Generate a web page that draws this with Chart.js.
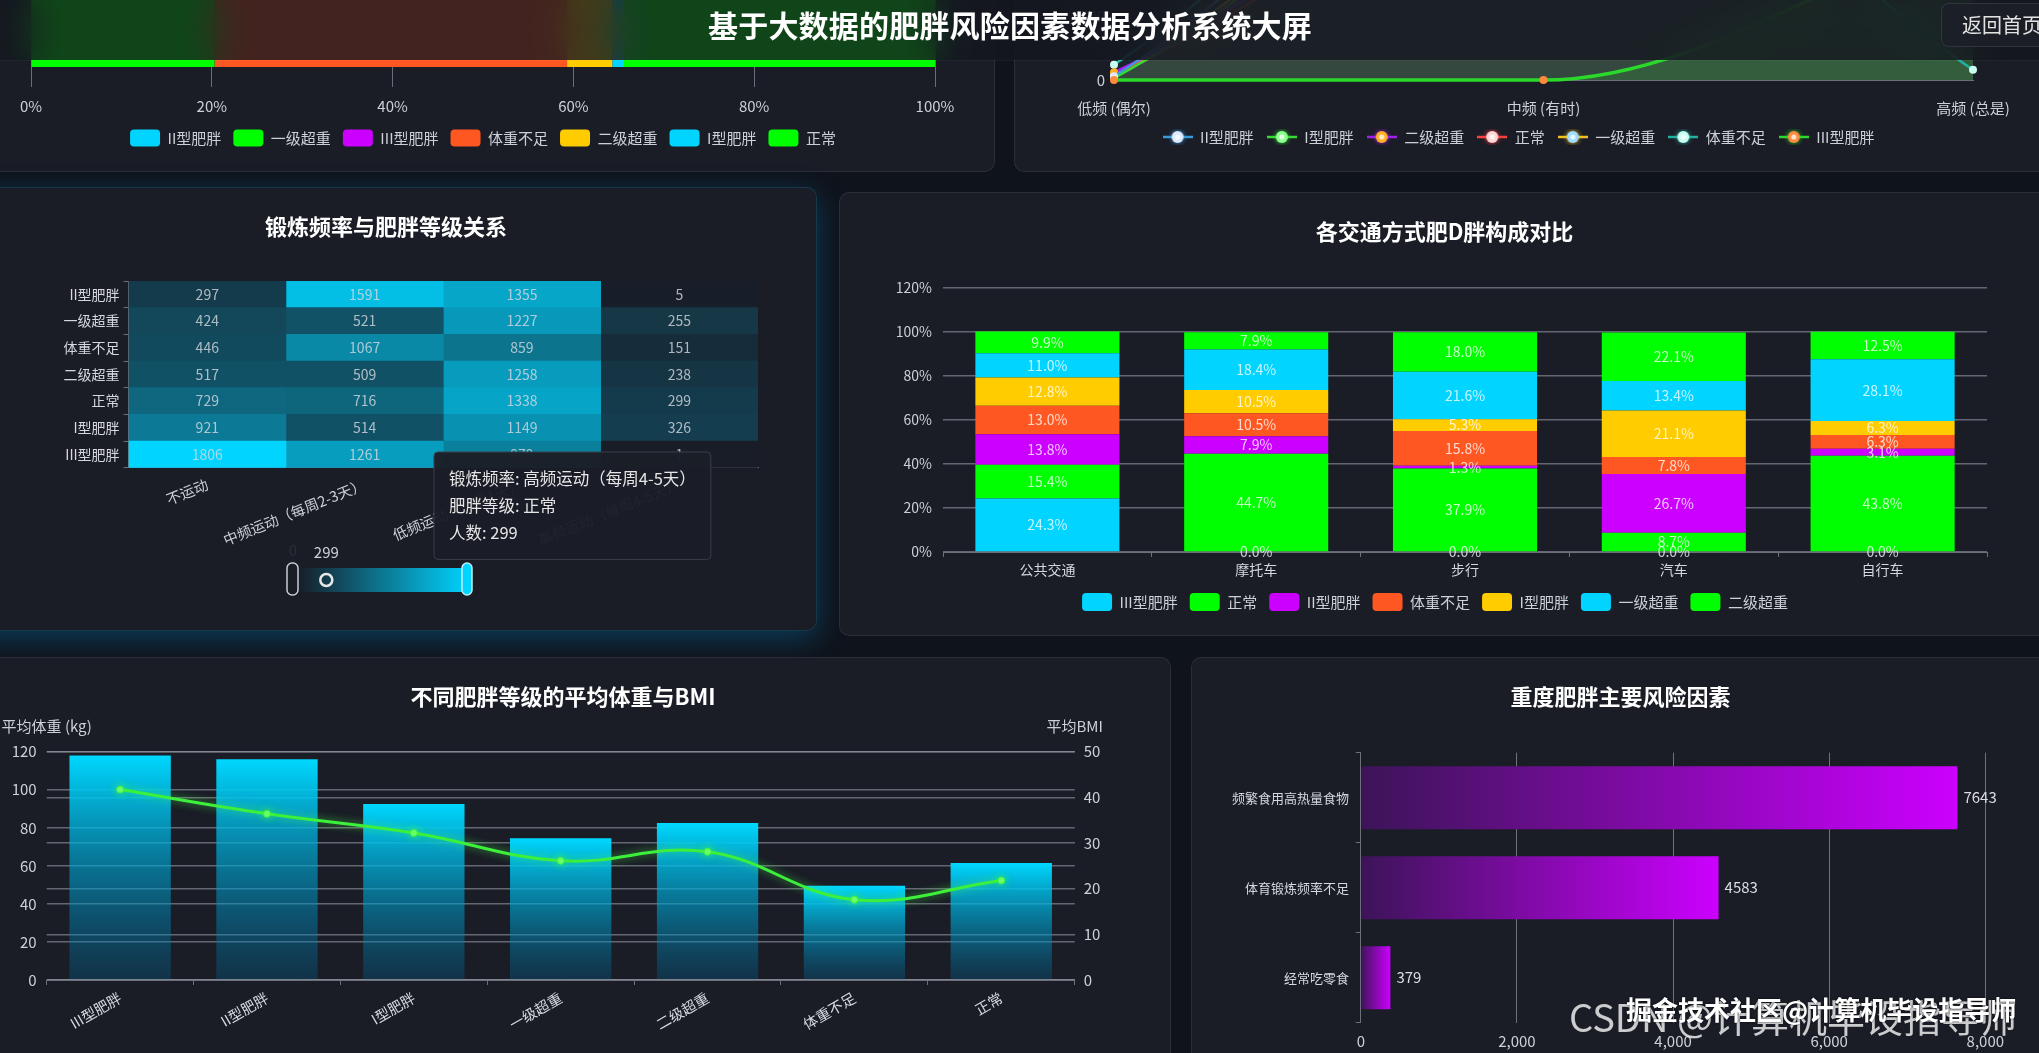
<!DOCTYPE html>
<html lang="zh-CN">
<head>
<meta charset="utf-8">
<title>基于大数据的肥胖风险因素数据分析系统大屏</title>
<script src="https://cdn.jsdelivr.net/npm/chart.js@4.4.1/dist/chart.umd.min.js"></script>
<style>
  html, body { margin: 0; padding: 0; width: 2039px; height: 1053px; overflow: hidden; background: #0f131b;
    font-family: "Noto Sans CJK SC", "Noto Sans", sans-serif; }
  .panel { position: absolute; background: #1a1c26; border-radius: 10px; overflow: hidden;
    box-shadow: inset 0 0 0 1px rgba(255,255,255,0.08); }
  .panel.hot { box-shadow: inset 0 0 0 1px rgba(0,212,255,0.16), 0 8px 30px rgba(0,170,255,0.28); }
  .box { position: absolute; left: 0; top: 0; }
  .title { position: absolute; left: 0; right: 0; top: 25px; text-align: center; color: #fff;
    font-size: 22px; line-height: 26px; font-weight: 700; }
  #header { position: absolute; left: 0; top: 0; width: 2039px; height: 60px; z-index: 10;
    background: rgba(20,23,31,0.8); backdrop-filter: blur(18px); -webkit-backdrop-filter: blur(18px);
    box-shadow: 0 1px 0 rgba(255,255,255,0.04); }
  #header h1 { margin: 0; position: absolute; left: 0; width: 2020px; top: 6px; text-align: center;
    font-size: 30px; line-height: 36px; font-weight: 700; color: #fff; letter-spacing: 0.2px; }
  #back { position: absolute; left: 1941px; top: 3px; width: 130px; height: 44px; box-sizing: border-box;
    padding-left: 21px; border-radius: 8px; background: rgba(28,31,40,0.92);
    box-shadow: inset 0 0 0 1px rgba(255,255,255,0.1); color: #e2e2e2; font-size: 20px; line-height: 44px; }
  .wm { position: absolute; white-space: nowrap; z-index: 20; }
  #wm1 { left: 1569px; top: 993px; font-size: 38px; line-height: 46px; color: rgba(235,235,235,0.85); font-weight: 400; }
  #wm2 { left: 1626px; top: 994px; font-size: 26px; line-height: 30px; color: #fff; font-weight: 700;
    text-shadow: 0 0 2px rgba(0,0,0,0.8); }
</style>
</head>
<body>

<div class="panel" style="left:-45px;top:-60px;width:1040px;height:232px">
  <div class="box" style="width:1040px;height:232px"><canvas id="c1"></canvas></div>
</div>
<div class="panel" style="left:1014px;top:-300px;width:1036px;height:472px">
  <div class="box" style="width:1036px;height:472px"><canvas id="c2"></canvas></div>
</div>
<div class="panel hot" style="left:-45px;top:187px;width:862px;height:444px">
  <div class="title">锻炼频率与肥胖等级关系</div>
  <div class="box" style="width:862px;height:444px"><canvas id="c3"></canvas></div>
</div>
<div class="panel" style="left:839px;top:192px;width:1211px;height:444px">
  <div class="title">各交通方式肥D胖构成对比</div>
  <div class="box" style="width:1211px;height:444px"><canvas id="c4"></canvas></div>
</div>
<div class="panel" style="left:-45px;top:657px;width:1216px;height:420px">
  <div class="title">不同肥胖等级的平均体重与BMI</div>
  <div class="box" style="width:1216px;height:396px"><canvas id="c5"></canvas></div>
</div>
<div class="panel" style="left:1191px;top:657px;width:859px;height:420px">
  <div class="title">重度肥胖主要风险因素</div>
  <div class="box" style="width:859px;height:396px"><canvas id="c6"></canvas></div>
</div>

<div id="header">
  <h1>基于大数据的肥胖风险因素数据分析系统大屏</h1>
  <div id="back">返回首页</div>
</div>

<div class="wm" id="wm1">CSDN @计算机毕设指导师</div>
<div class="wm" id="wm2">掘金技术社区@计算机毕设指导师</div>

<script>
// ---- 数据 ----
// 顶部左:肥胖等级构成(只露出最后一行)
const TOP_ROW = ['总体'];
const TOP_LEVELS = ['II型肥胖', '一级超重', 'III型肥胖', '体重不足', '二级超重', 'I型肥胖', '正常'];
const TOP_SHARE = [0, 20.3, 0, 39.0, 5.0, 1.3, 34.4];
const TOP_COLORS = ['#00d4ff', '#00ff00', '#cc00ff', '#ff5722', '#ffcc00', '#00d4ff', '#00ff00'];

// 顶部右:高热量食物频率 × 肥胖等级(大部分被顶栏遮住)
const FREQ_LABELS = ['低频 (偶尔)', '中频 (有时)', '高频 (总是)'];
const LINE_NAMES = ['II型肥胖', 'I型肥胖', '二级超重', '正常', '一级超重', '体重不足', 'III型肥胖'];
const LINE_VALUES = [
  [30, 2100, 1700],
  [15, 1800, 1500],
  [60, 1600, 1300],
  [40, 1500, 1200],
  [20, 1900, 1600],
  [120, 2300, 80],
  [0, 0, 1180],
];
const LINE_COLORS = ['#3a9ad9', '#33dd33', '#a020f0', '#ff4040', '#f0c020', '#20b2a0', '#2bd92b'];
const POINT_COLORS = ['#dfe9ff', '#8dff8d', '#ffb020', '#ffd6d6', '#9fdcff', '#c8fff0', '#ff8a3d'];

// 中左:锻炼频率与肥胖等级(热力图)
const HEAT_ROWS = ['II型肥胖', '一级超重', '体重不足', '二级超重', '正常', 'I型肥胖', 'III型肥胖'];
const HEAT_COLS = ['不运动', '中频运动（每周2-3天）', '低频运动（每周1天）', '高频运动（每周4-5天）'];
const HEAT_VALUES = [
  [297, 1591, 1355, 5],
  [424, 521, 1227, 255],
  [446, 1067, 859, 151],
  [517, 509, 1258, 238],
  [729, 716, 1338, 299],
  [921, 514, 1149, 326],
  [1806, 1261, 979, 1],
];
const HEAT_HOVER = { row: 4, col: 3 };

// 中右:各交通方式肥胖构成(%)
const MODES = ['公共交通', '摩托车', '步行', '汽车', '自行车'];
const MODE_LEVELS = ['III型肥胖', '正常', 'II型肥胖', '体重不足', 'I型肥胖', '一级超重', '二级超重'];
const MODE_COLORS = ['#00d4ff', '#00ff00', '#cc00ff', '#ff5722', '#ffcc00', '#00d4ff', '#00ff00'];
const MODE_SHARE = [
  [24.3, 0.0, 0.0, 0.0, 0.0],
  [15.4, 44.7, 37.9, 8.7, 43.8],
  [13.8, 7.9, 1.3, 26.7, 3.1],
  [13.0, 10.5, 15.8, 7.8, 6.3],
  [12.8, 10.5, 5.3, 21.1, 6.3],
  [11.0, 18.4, 21.6, 13.4, 28.1],
  [9.9, 7.9, 18.0, 22.1, 12.5],
];

// 下左:平均体重与BMI
const GRADES = ['III型肥胖', 'II型肥胖', 'I型肥胖', '一级超重', '二级超重', '体重不足', '正常'];
const AVG_WEIGHT = [118, 116, 92.5, 74.5, 82.5, 49.5, 61.5];
const AVG_BMI = [41.7, 36.4, 32.2, 26.1, 28.1, 17.6, 21.8];

// 下右:重度肥胖风险因素
const RISK_FACTORS = ['频繁食用高热量食物', '体育锻炼频率不足', '经常吃零食'];
const RISK_COUNTS = [7643, 4583, 379];

// ---- 公共设置 ----
const FONT = '"Noto Sans CJK SC", "Noto Sans", sans-serif';
Chart.defaults.font.family = FONT;
Chart.defaults.font.size = 15;
Chart.defaults.color = '#cdd0d6';
Chart.defaults.animation = false;
Chart.defaults.maintainAspectRatio = false;
Chart.defaults.devicePixelRatio = 1;
Chart.defaults.events = [];
Chart.defaults.plugins.legend.display = false;
Chart.defaults.plugins.tooltip.enabled = false;

const GRID = 'rgba(150,154,166,0.6)';
const AXIS = '#6e7079';
const fixW = w => s => { s.width = w; };
const fixH = h => s => { s.height = h; };

function rgba(hex, a) {
  const n = parseInt(hex.slice(1), 16);
  return `rgba(${n >> 16},${(n >> 8) & 255},${n & 255},${a})`;
}

// ---- 1 顶部左 ----
new Chart(document.getElementById('c1'), {
  type: 'bar',
  data: {
    labels: TOP_ROW,
    datasets: TOP_LEVELS.map((name, i) => ({
      label: name,
      data: [TOP_SHARE[i]],
      backgroundColor: TOP_COLORS[i],
      borderWidth: 0,
      barPercentage: 0.728,
      categoryPercentage: 1,
    })),
  },
  options: {
    indexAxis: 'y',
    layout: { padding: { left: 76, right: 60, top: 0, bottom: 15.5 } },
    scales: {
      x: {
        stacked: true, min: 0, max: 100,
        ticks: { stepSize: 20, callback: v => v + '%', padding: 10 },
        grid: { color: '#6a6d78', drawTicks: false },
        border: { display: false },
        afterFit: fixH(30.5),
      },
      y: { stacked: true, display: false },
    },
    plugins: {
      legend: {
        display: true, position: 'bottom',
        labels: { boxWidth: 30, boxHeight: 17, useBorderRadius: true, borderRadius: 4, padding: 12 },
      },
    },
  },
});

// ---- 2 顶部右 ----
function legendIcon(line, dot) {
  const c = document.createElement('canvas');
  c.width = 30; c.height = 16;
  const g = c.getContext('2d');
  g.strokeStyle = line; g.lineWidth = 2.5;
  g.beginPath(); g.moveTo(0, 8); g.lineTo(30, 8); g.stroke();
  g.shadowColor = line; g.shadowBlur = 5;
  g.fillStyle = dot;
  g.beginPath(); g.arc(15, 8, 6, 0, Math.PI * 2); g.fill();
  g.shadowBlur = 0;
  g.fillStyle = 'rgba(255,255,255,0.75)';
  g.beginPath(); g.arc(15, 8, 2.6, 0, Math.PI * 2); g.fill();
  return c;
}
const LINE_ICONS = LINE_NAMES.map((_, i) => legendIcon(LINE_COLORS[i], POINT_COLORS[i]));

new Chart(document.getElementById('c2'), {
  type: 'line',
  data: {
    labels: FREQ_LABELS,
    datasets: LINE_NAMES.map((name, i) => ({
      label: name,
      data: LINE_VALUES[i],
      borderColor: LINE_COLORS[i],
      borderWidth: i === 6 ? 3.5 : 2.5,
      backgroundColor: rgba(LINE_COLORS[i], i === 1 || i === 6 ? 0.14 : 0.06),
      fill: 'origin',
      cubicInterpolationMode: 'monotone',
      pointRadius: 4,
      pointBorderWidth: 0,
      pointBackgroundColor: POINT_COLORS[i],
      order: i === 6 ? -1 : i,
      clip: false,
    })),
  },
  options: {
    layout: { padding: { left: 50, right: 77, top: 60, bottom: 17.5 } },
    scales: {
      x: {
        grid: { display: false },
        border: { color: AXIS },
        ticks: { padding: 11 },
        afterFit: fixH(36.5),
      },
      y: {
        min: 0, max: 2500,
        ticks: { stepSize: 500, padding: 9 },
        grid: { color: 'rgba(120,125,135,0.25)', drawTicks: false },
        border: { display: false },
        afterFit: fixW(50),
      },
    },
    plugins: {
      filler: { drawTime: 'beforeDatasetsDraw' },
      legend: {
        display: true, position: 'bottom',
        labels: {
          usePointStyle: true, pointStyleWidth: 30, boxHeight: 15, padding: 13,
          generateLabels: chart => chart.data.datasets.map((ds, i) => ({
            text: ds.label, pointStyle: LINE_ICONS[i], fontColor: '#cdd0d6',
            fillStyle: 'transparent', strokeStyle: 'transparent', lineWidth: 0,
            hidden: false, datasetIndex: i,
          })),
        },
      },
    },
  },
});

// ---- 3 热力图 ----
const HEAT_MAX = Math.max(...HEAT_VALUES.flat());
function heatColor(v) {
  const t = v / HEAT_MAX;
  const a = [24, 29, 40], b = [0, 212, 255];
  return `rgb(${a.map((c, k) => Math.round(c + (b[k] - c) * t)).join(',')})`;
}

const heatLabels = {
  id: 'heatLabels',
  afterDatasetsDraw(chart) {
    const ctx = chart.ctx;
    ctx.save();
    ctx.font = '14px ' + FONT;
    ctx.textAlign = 'center';
    ctx.textBaseline = 'middle';
    ctx.fillStyle = 'rgba(215,218,224,0.8)';
    chart.data.datasets.forEach((ds, j) => {
      chart.getDatasetMeta(j).data.forEach((cell, i) => {
        ctx.fillText(String(HEAT_VALUES[i][j]), (cell.x + cell.base) / 2, cell.y);
      });
    });
    ctx.restore();
  },
};

// 连续型视觉映射条(ECharts visualMap 的样子)
const visualMap = {
  id: 'visualMap',
  afterDatasetsDraw(chart) {
    const ctx = chart.ctx;
    const x0 = 343, x1 = 514, y0 = 381, y1 = 405;
    ctx.save();
    const g = ctx.createLinearGradient(x0, 0, x1, 0);
    g.addColorStop(0, heatColor(0));
    g.addColorStop(1, heatColor(HEAT_MAX));
    ctx.fillStyle = g;
    ctx.fillRect(x0, y0, x1 - x0, y1 - y0);

    ctx.lineWidth = 1.5;
    ctx.beginPath(); ctx.roundRect(332, 376, 11, 32, 5);
    ctx.fillStyle = '#1a1c26'; ctx.fill();
    ctx.strokeStyle = '#c9ccd3'; ctx.stroke();
    ctx.beginPath(); ctx.roundRect(507, 376, 10, 32, 5);
    ctx.fillStyle = '#00d4ff'; ctx.fill();
    ctx.strokeStyle = '#bfefff'; ctx.stroke();

    const hv = HEAT_VALUES[HEAT_HOVER.row][HEAT_HOVER.col];
    const ix = x0 + (x1 - x0) * hv / HEAT_MAX;
    ctx.beginPath(); ctx.arc(ix, 393, 6, 0, Math.PI * 2);
    ctx.lineWidth = 2.5; ctx.strokeStyle = '#e8e8e8'; ctx.stroke();

    ctx.font = '15px ' + FONT;
    ctx.textAlign = 'center';
    ctx.textBaseline = 'middle';
    ctx.fillStyle = '#cdd0d6';
    ctx.fillText(String(hv), ix, 365);
    ctx.fillStyle = '#2c2f38';
    ctx.fillText('0', 338, 363);
    ctx.restore();
  },
};

const tooltipPlugin = Chart.Tooltip || Chart.registry.getPlugin('tooltip');
tooltipPlugin.positioners.fixedSpot = () => ({ x: 483, y: 265 });

const heat = new Chart(document.getElementById('c3'), {
  type: 'bar',
  data: {
    labels: HEAT_ROWS,
    datasets: HEAT_COLS.map((col, j) => ({
      label: col,
      data: HEAT_ROWS.map(() => [j, j + 1]),
      backgroundColor: HEAT_VALUES.map(r => heatColor(r[j])),
      borderWidth: 0,
      barPercentage: 1,
      categoryPercentage: 1,
      grouped: false,
    })),
  },
  options: {
    indexAxis: 'y',
    layout: { padding: { left: 43.6, right: 59, top: 94, bottom: 63.3 } },
    scales: {
      x: {
        min: 0, max: HEAT_COLS.length,
        afterBuildTicks: s => { s.ticks = HEAT_COLS.map((c, i) => ({ value: i + 0.5 })); },
        ticks: {
          callback: v => HEAT_COLS[Math.floor(v)],
          minRotation: 22, maxRotation: 22, autoSkip: false, padding: 0,
          font: { size: 14.5 },
        },
        grid: { display: false },
        border: { color: AXIS },
        afterFit: fixH(100),
      },
      y: {
        grid: { drawOnChartArea: false, tickLength: 5, color: AXIS },
        border: { color: AXIS },
        ticks: { padding: 4, font: { size: 14 }, color: '#d6d8de' },
        afterFit: fixW(130),
      },
    },
    plugins: {
      tooltip: {
        enabled: true,
        position: 'fixedSpot',
        xAlign: 'left', yAlign: 'top',
        caretSize: 0, caretPadding: 0, cornerRadius: 4,
        backgroundColor: 'rgba(27,30,39,0.97)',
        borderColor: '#3a3f4b', borderWidth: 1,
        padding: { top: 17, bottom: 17, left: 15, right: 15 },
        bodyFont: { size: 16.5, family: FONT },
        bodyColor: '#e6e6e6',
        bodySpacing: 7,
        displayColors: false,
        callbacks: {
          title: () => '',
          label: c => [
            '锻炼频率: ' + HEAT_COLS[c.datasetIndex],
            '肥胖等级: ' + HEAT_ROWS[c.dataIndex],
            '人数: ' + HEAT_VALUES[c.dataIndex][c.datasetIndex],
          ],
        },
      },
    },
  },
  plugins: [heatLabels, visualMap],
});
heat.tooltip.setActiveElements([{ datasetIndex: HEAT_HOVER.col, index: HEAT_HOVER.row }], { x: 0, y: 0 });
heat.update();

// ---- 4 交通方式堆叠柱 ----
const segmentLabels = {
  id: 'segmentLabels',
  afterDatasetsDraw(chart) {
    const ctx = chart.ctx;
    ctx.save();
    ctx.font = '14px ' + FONT;
    ctx.textAlign = 'center';
    ctx.textBaseline = 'middle';
    ctx.fillStyle = 'rgba(255,255,255,0.78)';
    chart.data.datasets.forEach((ds, i) => {
      chart.getDatasetMeta(i).data.forEach((bar, j) => {
        ctx.fillText(MODE_SHARE[i][j].toFixed(1) + '%', bar.x, (bar.y + bar.base) / 2);
      });
    });
    ctx.restore();
  },
};

new Chart(document.getElementById('c4'), {
  type: 'bar',
  data: {
    labels: MODES,
    datasets: MODE_LEVELS.map((name, i) => ({
      label: name,
      data: MODE_SHARE[i],
      backgroundColor: MODE_COLORS[i],
      borderWidth: 0,
      barPercentage: 0.69,
      categoryPercentage: 1,
    })),
  },
  options: {
    layout: { padding: { left: 44, right: 63, top: 96, bottom: 15 } },
    scales: {
      x: {
        stacked: true,
        grid: { drawOnChartArea: false, tickLength: 5, color: AXIS },
        border: { color: AXIS },
        ticks: { padding: 4, font: { size: 14 }, color: '#d6d8de' },
        afterFit: fixH(29),
      },
      y: {
        stacked: true, min: 0, max: 120,
        ticks: { stepSize: 20, callback: v => v + '%', padding: 11, font: { size: 14 } },
        grid: { color: GRID, lineWidth: 1.5, drawTicks: false },
        border: { display: false },
        afterFit: fixW(60),
      },
    },
    plugins: {
      legend: {
        display: true, position: 'bottom',
        labels: { boxWidth: 30, boxHeight: 18, useBorderRadius: true, borderRadius: 4, padding: 12 },
      },
    },
  },
  plugins: [segmentLabels],
});

// ---- 5 平均体重与BMI ----
function weightGradient(c) {
  const ys = c.chart.scales.y;
  if (c.type !== 'data' || !ys) return '#00d4ff';
  const top = ys.getPixelForValue(AVG_WEIGHT[c.dataIndex]);
  const base = ys.getPixelForValue(0);
  if (!isFinite(top) || !isFinite(base)) return '#00d4ff';
  const g = c.chart.ctx.createLinearGradient(0, top, 0, base);
  g.addColorStop(0, '#00d8ff');
  g.addColorStop(1, 'rgba(0,110,160,0.28)');
  return g;
}

const axisNames = {
  id: 'axisNames',
  afterDraw(chart) {
    const { ctx, chartArea } = chart;
    ctx.save();
    ctx.font = '15px ' + FONT;
    ctx.textAlign = 'center';
    ctx.textBaseline = 'middle';
    ctx.fillStyle = '#cdd0d6';
    ctx.fillText('平均体重 (kg)', chartArea.left, chartArea.top - 25);
    ctx.fillText('平均BMI', chartArea.right, chartArea.top - 25);
    ctx.restore();
  },
};

const lineGlow = {
  id: 'lineGlow',
  beforeDatasetDraw(chart, args) {
    if (args.meta.type !== 'line') return;
    chart.ctx.save();
    chart.ctx.shadowColor = 'rgba(70,255,70,0.7)';
    chart.ctx.shadowBlur = 8;
  },
  afterDatasetDraw(chart, args) {
    if (args.meta.type === 'line') chart.ctx.restore();
  },
};

new Chart(document.getElementById('c5'), {
  type: 'bar',
  data: {
    labels: GRADES,
    datasets: [
      {
        type: 'line', label: '平均BMI', data: AVG_BMI, yAxisID: 'y1',
        borderColor: '#3cf03c', borderWidth: 3, tension: 0.4,
        pointRadius: 3.5, pointBackgroundColor: '#6dff6d', pointBorderColor: '#3cf03c', pointBorderWidth: 1,
        order: 0,
      },
      {
        type: 'bar', label: '平均体重', data: AVG_WEIGHT, yAxisID: 'y',
        backgroundColor: weightGradient, borderWidth: 0,
        barPercentage: 0.69, categoryPercentage: 1,
        order: 1,
      },
    ],
  },
  options: {
    layout: { padding: { left: 31.7, right: 36.3, top: 94.7, bottom: 3 } },
    scales: {
      x: {
        grid: { drawOnChartArea: false, tickLength: 5, color: AXIS },
        border: { color: AXIS },
        ticks: { minRotation: 30, maxRotation: 30, autoSkip: false, padding: 4, font: { size: 14.5 }, color: '#d6d8de' },
        afterFit: fixH(70),
      },
      y: {
        position: 'left', min: 0, max: 120,
        ticks: { stepSize: 20, padding: 10 },
        grid: { color: GRID, lineWidth: 1.5, drawTicks: false },
        border: { display: false },
        afterFit: fixW(60),
      },
      y1: {
        position: 'right', min: 0, max: 50,
        ticks: { stepSize: 10, padding: 9 },
        grid: { color: GRID, lineWidth: 1.5, drawTicks: false },
        border: { display: false },
        afterFit: fixW(60),
      },
    },
  },
  plugins: [axisNames, lineGlow],
});

// ---- 6 风险因素横向柱 ----
function riskGradient(c) {
  const xs = c.chart.scales.x;
  if (c.type !== 'data' || !xs) return '#cc00ff';
  const left = xs.getPixelForValue(0);
  const right = xs.getPixelForValue(RISK_COUNTS[c.dataIndex]);
  if (!isFinite(left) || !isFinite(right)) return '#cc00ff';
  const g = c.chart.ctx.createLinearGradient(left, 0, right, 0);
  g.addColorStop(0, 'rgb(60,20,88)');
  g.addColorStop(1, '#cc00ff');
  return g;
}

const valueLabels = {
  id: 'valueLabels',
  afterDatasetsDraw(chart) {
    const ctx = chart.ctx;
    ctx.save();
    ctx.font = '15px ' + FONT;
    ctx.textAlign = 'left';
    ctx.textBaseline = 'middle';
    ctx.fillStyle = '#dcdde2';
    chart.getDatasetMeta(0).data.forEach((bar, i) => {
      ctx.fillText(String(RISK_COUNTS[i]), bar.x + 6, bar.y);
    });
    ctx.restore();
  },
};

new Chart(document.getElementById('c6'), {
  type: 'bar',
  data: {
    labels: RISK_FACTORS,
    datasets: [{
      label: '人数', data: RISK_COUNTS,
      backgroundColor: riskGradient, borderWidth: 0,
      barPercentage: 0.7, categoryPercentage: 1,
    }],
  },
  options: {
    indexAxis: 'y',
    layout: { padding: { left: 4.8, right: 64.7, top: 95.7, bottom: 0.3 } },
    scales: {
      x: {
        min: 0, max: 8000,
        ticks: { stepSize: 2000, padding: 10, callback: v => v.toLocaleString('en-US') },
        grid: { color: 'rgba(170,172,180,0.6)', drawTicks: false },
        border: { display: false },
        afterFit: fixH(30),
      },
      y: {
        grid: { drawOnChartArea: false, tickLength: 5, color: AXIS },
        border: { color: AXIS },
        ticks: { padding: 6.8, font: { size: 13 }, color: '#d6d8de' },
        afterFit: fixW(165),
      },
    },
  },
  plugins: [valueLabels],
});
</script>
</body>
</html>
